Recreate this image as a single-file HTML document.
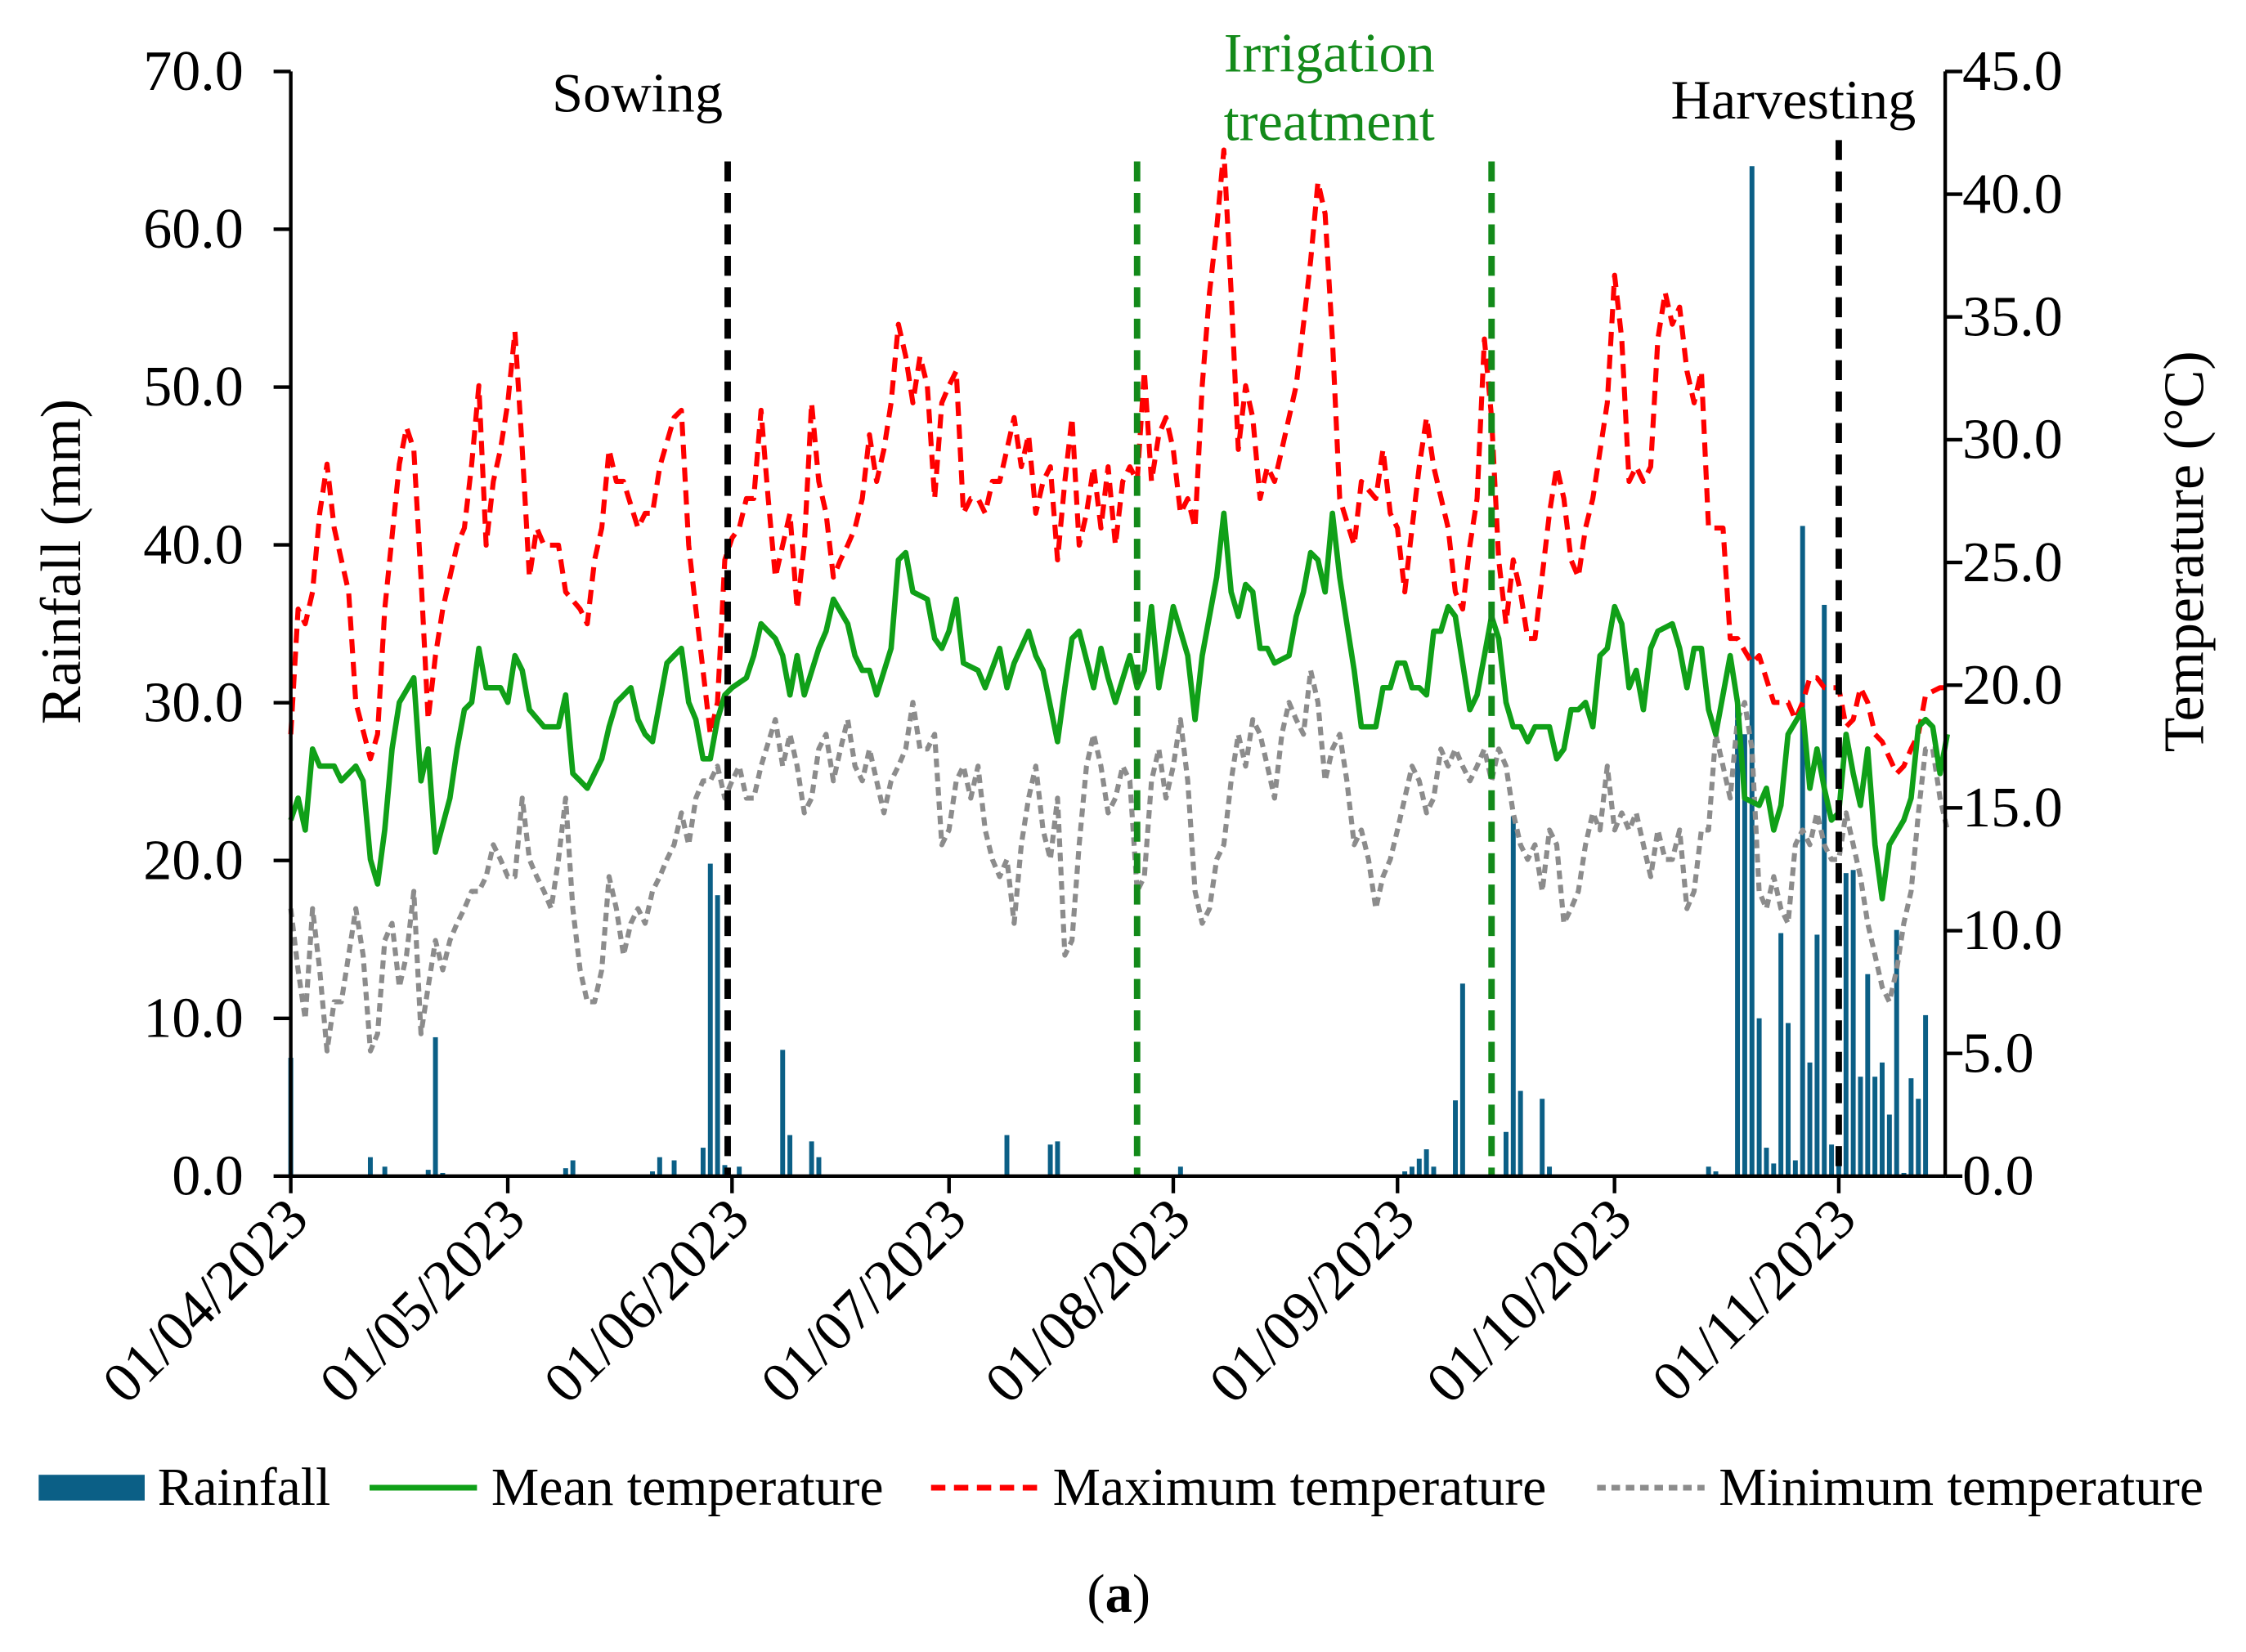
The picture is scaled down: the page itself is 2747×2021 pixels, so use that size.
<!DOCTYPE html>
<html><head><meta charset="utf-8"><style>
html,body{margin:0;padding:0;background:#fff;}
svg{display:block;font-family:"Liberation Serif",serif;}
</style></head><body>
<svg id="chart" width="2747" height="2021" viewBox="0 0 1568 1156" preserveAspectRatio="none" xmlns="http://www.w3.org/2000/svg">
<rect width="1568" height="1156" fill="#fff"/>
<g id="bars"></g>
<g id="lines"></g>
<g id="markers"></g>
<g id="axes"></g>
<g font-size="39">
<text x="445" y="78" text-anchor="middle">Sowing</text>
<text x="928" y="50" text-anchor="middle" fill="#138a1a">Irrigation</text>
<text x="928" y="98" text-anchor="middle" fill="#138a1a">treatment</text>
<text x="1252" y="83" text-anchor="middle">Harvesting</text>
</g>
<text font-size="40" transform="translate(56,393) rotate(-90)" text-anchor="middle">Rainfall (mm)</text>
<text font-size="40" transform="translate(1538,386) rotate(-90)" text-anchor="middle">Temperature (°C)</text>
<g font-size="37.5">
<g><rect x="27" y="1032" width="74" height="18" fill="#0b5f86"/><text x="110" y="1053">Rainfall</text></g>
<g><line x1="258" y1="1041" x2="333" y2="1041" stroke="#10a018" stroke-width="4"/><text x="343" y="1053">Mean temperature</text></g>
<g><line x1="650" y1="1041" x2="725" y2="1041" stroke="#ff0000" stroke-width="4" stroke-dasharray="10,6"/><text x="735" y="1053">Maximum temperature</text></g>
<g><line x1="1115" y1="1041" x2="1190" y2="1041" stroke="#8c8c8c" stroke-width="4" stroke-dasharray="6,4"/><text x="1200" y="1053">Minimum temperature</text></g>
</g>
<text x="781" y="1128" font-size="38" text-anchor="middle">(<tspan font-weight="bold">a</tspan>)</text>
</svg>
<script>
const rainDays=[0,11,13,19,20,21,38,39,50,51,53,57,58,59,60,62,68,69,72,73,99,105,106,123,154,155,156,157,158,161,162,168,169,170,173,174,196,197,200,201,202,203,204,205,206,207,208,209,210,211,212,213,214,215,216,217,218,219,220,221,222,223,224,225,226];
const rainValues=[7.5,1.2,0.6,0.4,8.8,0.2,0.5,1.0,0.3,1.2,1.0,1.8,19.8,17.8,0.7,0.6,8.0,2.6,2.2,1.2,2.6,2.0,2.2,0.6,0.3,0.6,1.1,1.7,0.6,4.8,12.2,2.8,22.8,5.4,4.9,0.6,0.6,0.3,30,28,64,10,1.8,0.8,15.4,9.7,1.0,41.2,7.2,15.3,36.2,2.0,1.0,19.2,19.4,6.3,12.8,6.3,7.2,3.9,15.6,0.2,6.2,4.9,10.2];
const meanDays=[0,1,2,3,4,6,7,9,10,11,12,13,14,15,17,18,19,20,22,23,24,25,26,27,29,30,31,32,33,35,37,38,39,40,41,43,44,45,47,48,49,50,52,53,54,55,56,57,58,59,60,61,63,64,65,67,68,69,70,71,73,74,75,77,78,79,80,81,83,84,85,86,88,89,90,91,92,93,95,96,98,99,100,102,103,104,106,107,108,109,111,112,113,114,116,117,118,119,120,121,122,124,125,126,128,129,130,131,132,133,134,135,136,138,139,140,141,142,143,144,145,146,147,148,150,151,152,153,154,155,156,157,158,159,160,161,162,163,164,165,166,167,168,169,170,171,172,174,175,176,177,178,179,180,181,182,183,184,185,186,187,188,189,191,192,193,194,195,196,197,199,200,201,203,204,205,206,207,209,210,211,212,213,214,215,216,217,218,219,220,221,223,224,225,226,227,228,229];
const meanValues=[14.5,15.4,14.1,17.4,16.7,16.7,16.1,16.7,16.1,12.9,11.9,14.1,17.4,19.3,20.3,16.1,17.4,13.2,15.4,17.4,19.0,19.3,21.5,19.9,19.9,19.3,21.2,20.6,19.0,18.3,18.3,19.6,16.4,16.1,15.8,17.0,18.3,19.3,19.9,18.6,18.0,17.7,20.9,21.2,21.5,19.3,18.6,17.0,17.0,18.6,19.6,19.9,20.3,21.2,22.5,21.9,21.2,19.6,21.2,19.6,21.5,22.2,23.5,22.5,21.2,20.6,20.6,19.6,21.5,25.1,25.4,23.8,23.5,21.9,21.5,22.2,23.5,20.9,20.6,19.9,21.5,19.9,20.9,22.2,21.2,20.6,17.7,19.9,21.9,22.2,19.9,21.5,20.3,19.3,21.2,19.9,20.6,23.2,19.9,21.5,23.2,21.2,18.6,21.2,24.4,27.0,23.8,22.8,24.1,23.8,21.5,21.5,20.9,21.2,22.8,23.8,25.4,25.1,23.8,27.0,24.4,22.5,20.6,18.3,18.3,19.9,19.9,20.9,20.9,19.9,19.9,19.6,22.2,22.2,23.2,22.8,20.9,19.0,19.6,21.2,22.8,21.9,19.3,18.3,18.3,17.7,18.3,18.3,17.0,17.4,19.0,19.0,19.3,18.3,21.2,21.5,23.2,22.5,19.9,20.6,19.0,21.5,22.2,22.5,21.5,19.9,21.5,21.5,19.0,18.0,21.2,19.3,15.4,15.1,15.8,14.1,15.1,18.0,19.0,15.8,17.4,15.8,14.5,14.8,18.0,16.4,15.1,17.4,13.5,11.3,13.5,14.5,15.4,18.3,18.6,18.3,16.4,18.0];
const maxDays=[0,1,2,3,4,5,6,8,9,11,12,13,15,16,17,18,19,20,21,23,24,25,26,27,28,29,30,31,32,33,34,35,36,37,38,40,41,42,43,44,45,46,48,49,50,51,53,54,55,56,57,58,59,60,61,62,63,64,65,66,67,68,69,70,71,72,73,74,75,76,77,78,79,80,81,82,83,84,85,86,87,88,89,90,91,92,93,94,95,96,97,98,100,101,102,103,104,105,106,107,108,109,110,111,112,113,114,115,116,117,118,119,120,121,122,123,124,125,126,127,128,129,130,131,132,133,134,135,136,137,138,139,140,141,142,143,144,145,147,148,150,151,152,153,154,155,156,157,158,160,161,162,163,164,165,166,167,168,169,170,171,172,174,175,176,177,178,179,180,182,183,184,185,186,187,188,189,190,191,192,193,194,195,196,197,198,199,200,202,203,205,207,208,209,210,211,212,214,215,216,217,218,219,220,222,223,224,225,226,228,229];
const maxValues=[18.0,23.1,22.5,23.8,27.0,29.0,26.4,23.8,19.3,17.0,18.0,23.1,29.0,30.5,29.6,24.4,18.6,21.2,23.1,25.7,26.4,29.0,32.2,25.7,28.3,29.6,31.5,34.4,29.6,24.4,26.4,25.7,25.7,25.7,23.8,23.1,22.5,25.1,26.4,29.6,28.3,28.3,26.4,27.0,27.0,28.9,30.9,31.2,25.7,23.1,20.6,18.0,19.3,25.1,26.0,26.4,27.6,27.6,31.2,27.6,24.4,25.7,27.0,23.1,25.7,31.5,28.3,27.0,24.4,25.1,25.7,26.4,27.6,30.2,28.3,29.6,31.5,34.7,33.4,31.5,33.4,32.2,27.6,31.5,32.2,32.8,27.0,27.6,27.6,27.0,28.3,28.3,30.9,28.9,30.2,27.0,28.3,28.9,25.1,28.3,30.9,25.7,27.0,28.9,26.4,28.9,25.7,28.3,28.9,28.3,32.8,28.3,30.2,30.9,29.6,27.0,27.6,26.4,32.2,36.0,38.6,41.8,36.0,29.6,32.2,30.9,27.6,28.9,28.3,29.6,30.9,32.2,34.7,37.3,40.5,39.2,34.1,27.6,25.7,28.3,27.6,29.6,27.0,26.4,23.8,26.4,28.9,30.9,28.9,26.4,23.8,23.1,25.7,27.6,34.1,30.9,25.1,22.5,25.1,23.8,21.9,21.9,27.0,28.9,27.6,25.1,24.4,26.4,27.6,31.5,36.7,34.1,28.3,28.9,28.3,28.9,34.1,36.0,34.7,35.4,32.8,31.5,32.8,26.4,26.4,26.4,21.9,21.9,20.9,21.2,19.3,19.3,18.6,19.3,20.3,20.3,19.9,19.9,18.3,18.6,19.9,19.3,18.0,17.7,16.4,16.7,17.4,18.0,19.6,19.9,19.9,21.2,21.9];
const minDays=[0,1,2,3,4,5,6,7,8,9,10,11,12,13,14,15,16,17,18,19,20,21,22,23,24,25,26,27,28,29,30,31,32,33,34,35,36,37,38,39,40,41,42,43,44,45,46,47,48,49,50,51,52,53,54,55,56,57,58,59,60,61,62,63,64,65,67,68,69,70,71,72,73,74,75,76,77,78,79,80,81,82,83,84,85,86,87,88,89,90,91,92,93,94,95,96,97,98,99,100,101,102,103,104,105,106,107,108,109,110,111,112,113,114,115,116,117,118,119,120,121,122,123,124,125,126,127,128,129,130,131,132,133,134,135,136,137,138,139,140,141,142,143,144,145,146,147,148,149,150,151,152,153,154,155,156,157,158,159,160,161,162,163,164,165,166,167,168,169,170,171,172,173,174,175,176,177,178,179,180,181,182,183,184,185,186,187,188,189,190,191,192,193,194,195,196,197,198,199,200,201,202,203,204,205,206,207,208,209,210,211,212,213,214,215,216,217,218,219,220,221,222,223,224,225,226,227,228,229];
const minValues=[10.9,8.4,6.4,10.9,8.4,5.1,7.1,7.1,9.0,10.9,9.0,5.1,5.8,9.6,10.3,7.7,9.0,11.6,5.8,7.7,9.6,8.4,9.6,10.3,10.9,11.6,11.6,12.2,13.5,12.9,12.2,12.2,15.4,12.9,12.2,11.6,10.9,12.9,15.4,10.9,8.4,7.1,7.1,8.4,12.2,10.9,9.0,10.3,10.9,10.3,11.6,12.2,12.9,13.5,14.8,13.5,15.4,16.1,16.1,16.7,15.4,16.1,16.7,15.4,15.4,16.7,18.6,16.7,18.0,16.7,14.8,15.4,17.4,18.0,16.1,17.4,18.6,16.7,16.1,17.4,16.1,14.8,16.1,16.7,17.4,19.3,17.4,17.4,18.0,13.5,14.1,16.1,16.7,15.4,16.7,14.1,12.9,12.2,12.9,10.3,13.5,15.4,16.7,14.1,12.9,15.4,9.0,9.6,13.5,16.7,18.0,16.7,14.8,15.4,16.7,16.1,11.6,12.2,16.1,17.4,15.4,16.7,18.6,16.1,11.6,10.3,10.9,12.9,13.5,16.1,18.0,16.7,18.6,18.0,16.7,15.4,18.0,19.3,18.6,18.0,20.6,19.3,16.1,17.4,18.0,16.1,13.5,14.1,12.9,10.9,12.2,12.9,14.1,15.4,16.7,16.1,14.8,15.4,17.4,16.7,17.4,16.7,16.1,16.7,17.4,16.1,17.4,16.7,14.8,13.5,12.9,13.5,11.6,14.1,13.5,10.3,10.9,11.6,13.5,14.8,14.1,16.7,14.1,14.8,14.1,14.8,13.5,12.2,14.1,12.9,12.9,14.1,10.9,11.6,14.1,14.1,18.0,16.7,15.4,18.6,19.3,17.4,11.6,10.9,12.2,10.9,10.3,13.5,14.1,13.5,14.8,13.5,12.9,12.9,14.8,13.5,12.2,10.3,9.0,7.7,7.1,8.4,10.3,11.6,14.8,17.4,17.4,15.4,14.1];
const eventDays=[60.4,117,166,214];
const eventColors=["#000","#138a1a","#138a1a","#000"];
const rainTicks=["0.0","10.0","20.0","30.0","40.0","50.0","60.0","70.0"];
const tempTicks=["0.0","5.0","10.0","15.0","20.0","25.0","30.0","35.0","40.0","45.0"];
const monthDays=[0,30,61,91,122,153,183,214];
const monthLabels=["01/04/2023","01/05/2023","01/06/2023","01/07/2023","01/08/2023","01/09/2023","01/10/2023","01/11/2023"];

const NS="http://www.w3.org/2000/svg";
const X0=203,X1=1358,Y0=823,Y1=50;
const xDay=d=>X0+d*5.05;
const yRain=v=>Y0-(v/70)*(Y0-Y1);
const yTemp=v=>Y0-(v/45)*(Y0-Y1);
function mk(tag,attrs,parent){const e=document.createElementNS(NS,tag);for(const k in attrs)e.setAttribute(k,attrs[k]);parent.appendChild(e);return e;}

const gb=document.getElementById('bars');
rainDays.forEach((d,i)=>{
  const y=yRain(rainValues[i]);
  const r=mk('rect',{x:xDay(d)-1.7,y:y,width:3.4,height:Y0-y,fill:'#0b5f86'},gb);
  
  
});
const gl=document.getElementById('lines');
function line(days,vals,color,w,dash,name){
  const pts=days.map((d,i)=>xDay(d).toFixed(1)+','+yTemp(vals[i]).toFixed(1)).join(' ');
  const p=mk('polyline',{points:pts,fill:'none',stroke:color,'stroke-width':w,'stroke-linejoin':'round'},gl);
  if(dash)p.setAttribute('stroke-dasharray',dash);
  
  
}
line(minDays,minValues,'#8c8c8c',3.5,'6,4','minimum-temperature-line');
line(maxDays,maxValues,'#ff0000',3.5,'10,6','maximum-temperature-line');
line(meanDays,meanValues,'#10a018',3.8,null,'mean-temperature-line');

const gm=document.getElementById('markers');
eventDays.forEach((d,i)=>{
  const l=mk('line',{x1:xDay(d),x2:xDay(d),y1:i==3?98:113,y2:Y0,stroke:eventColors[i],'stroke-width':4.5,'stroke-dasharray':'14,8'},gm);
  
  
});

const ga=document.getElementById('axes');
mk('line',{x1:X0,y1:Y1,x2:X0,y2:Y0,stroke:'#000','stroke-width':2.5},ga);
mk('line',{x1:X1,y1:Y1,x2:X1,y2:Y0,stroke:'#000','stroke-width':2.5},ga);
mk('line',{x1:X0,y1:Y0,x2:X1,y2:Y0,stroke:'#000','stroke-width':2.5},ga);
rainTicks.forEach((t,i)=>{
  const y=yRain(i*10);
  mk('line',{x1:X0-12,x2:X0,y1:y,y2:y,stroke:'#000','stroke-width':2.5},ga);
  const tx=mk('text',{x:170,y:y+13,'text-anchor':'end','font-size':40},ga);
  tx.textContent=t;
  
  
});
tempTicks.forEach((t,i)=>{
  const y=yTemp(i*5);
  mk('line',{x1:X1,x2:X1+12,y1:y,y2:y,stroke:'#000','stroke-width':2.5},ga);
  const tx=mk('text',{x:1370,y:y+13,'font-size':40},ga);
  tx.textContent=t;
  
  
});
monthDays.forEach((d,i)=>{
  const x=xDay(d);
  mk('line',{x1:x,x2:x,y1:Y0,y2:Y0+12,stroke:'#000','stroke-width':2.5},ga);
  const tx=mk('text',{x:0,y:0,'text-anchor':'end','font-size':40,transform:`translate(${x+14},${Y0+32}) rotate(-45)`},ga);
  tx.textContent=monthLabels[i];
  
  
});
</script>
</body></html>
